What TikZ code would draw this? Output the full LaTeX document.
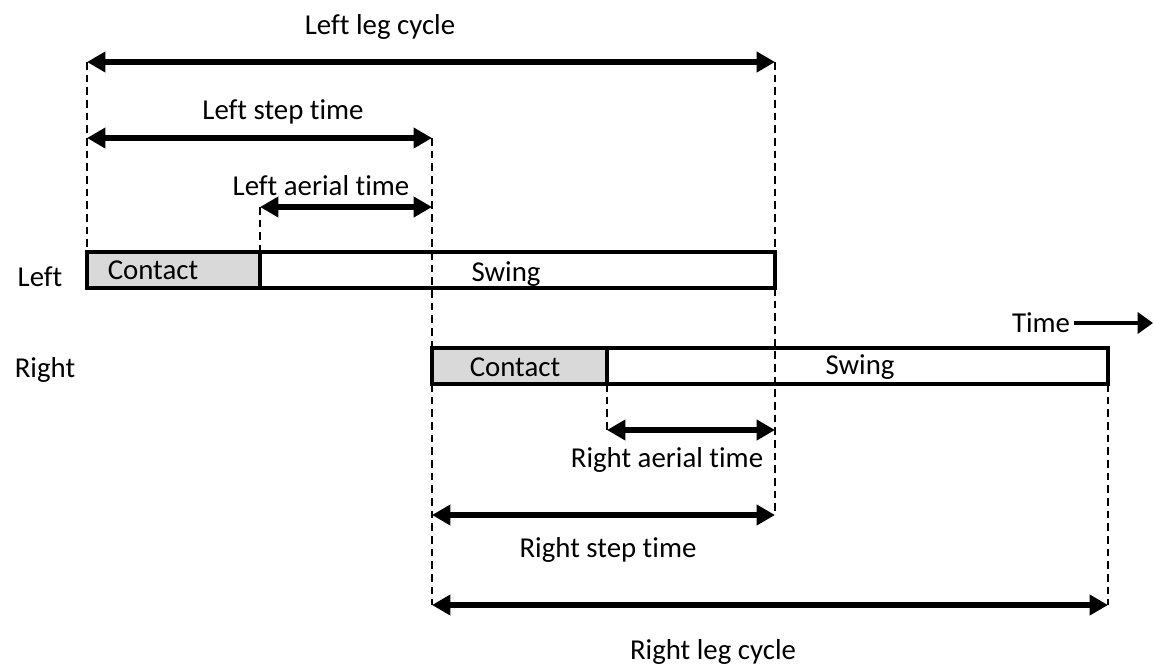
\documentclass[tikz,border=0pt]{standalone}
\usepackage{fontspec}
\setmainfont{Carlito}[Ligatures=CommonOff]
\usetikzlibrary{arrows.meta}
\definecolor{contactgrey}{RGB}{217,217,217}

\begin{document}
\begin{tikzpicture}[x=0.025cm,y=-0.025cm,
  every node/.style={font=\fontsize{20.5}{24}\selectfont, inner sep=0pt},
  span/.style={line width=4.4pt, {Triangle[length=13pt,width=14pt]}-{Triangle[length=13pt,width=14pt]}},
  guide/.style={line width=1.2pt, dash pattern=on 5.5pt off 3.5pt},
  bar/.style={line width=2.2pt}]
\useasboundingbox (0,0) rectangle (1154,666);
% bars
\coordinate (lbarA) at (87,252);
\coordinate (lbarC) at (260,288);
\coordinate (lbarCt) at (260,252);
\coordinate (lbarB) at (775,288);
\coordinate (lbarBt) at (775,252);
\coordinate (rbarA) at (432,348);
\coordinate (rbarC) at (607,384);
\coordinate (rbarB) at (1108,384);
\draw [bar, fill=contactgrey] (lbarA) rectangle (lbarC);
\draw [bar] (lbarC) rectangle (lbarBt);
\draw [bar, fill=contactgrey] (rbarA) rectangle (rbarC);
\draw [bar] (rbarC) rectangle (1108,348);
\node (lcontact) at (153,270) {Contact};
\node (lswing) at (506,274) {Swing};
\node (rcontact) at (515,367) {Contact};
\node (rswing) at (860,367) {Swing};
\node (left) at (40,277) {Left};
\node (right) at (45,370) {Right};
% spans
\coordinate (lcycA) at (87,62);
\coordinate (lcycB) at (775,62);
\coordinate (lstepA) at (87,138);
\coordinate (lstepB) at (432,138);
\coordinate (laerA) at (260,207);
\coordinate (laerB) at (432,207);
\coordinate (raerA) at (607,430);
\coordinate (raerB) at (775,430);
\coordinate (rstepA) at (432,515);
\coordinate (rstepB) at (775,515);
\coordinate (rcycA) at (432,605);
\coordinate (rcycB) at (1108,605);
\draw [guide] (lcycA)--(lbarA);
\draw [guide] (lcycB)--(lbarBt);
\draw [guide] (lbarB)--(rstepB);
\draw [guide] (lstepB)--(rbarA);
\draw [guide] (432,384)--(rcycA);
\draw [guide] (laerA)--(lbarCt);
\draw [guide] (rbarC)--(raerA);
\draw [guide] (rbarB)--(rcycB);
\draw [span] (lcycA)--(lcycB);
\draw [span] (lstepA)--(lstepB);
\draw [span] (laerA)--(laerB);
\draw [span] (raerA)--(raerB);
\draw [span] (rstepA)--(rstepB);
\draw [span] (rcycA)--(rcycB);
\node (lcyc) at (380,27) {Left leg cycle};
\node (lstep) at (283,112) {Left step time};
\node (laer) at (321,186) {Left aerial time};
\node (raer) at (667,460) {Right aerial time};
\node (rstep) at (608,550) {Right step time};
\node (rcyc) at (713,652) {Right leg cycle};
% time
\node (time) at (1041,323) {Time};
\coordinate (timeend) at (1153,323);
\draw [line width=3.5pt, -{Triangle[length=11pt,width=15pt]}] (time.east)++(4,0)--(timeend);
\end{tikzpicture}
\end{document}
